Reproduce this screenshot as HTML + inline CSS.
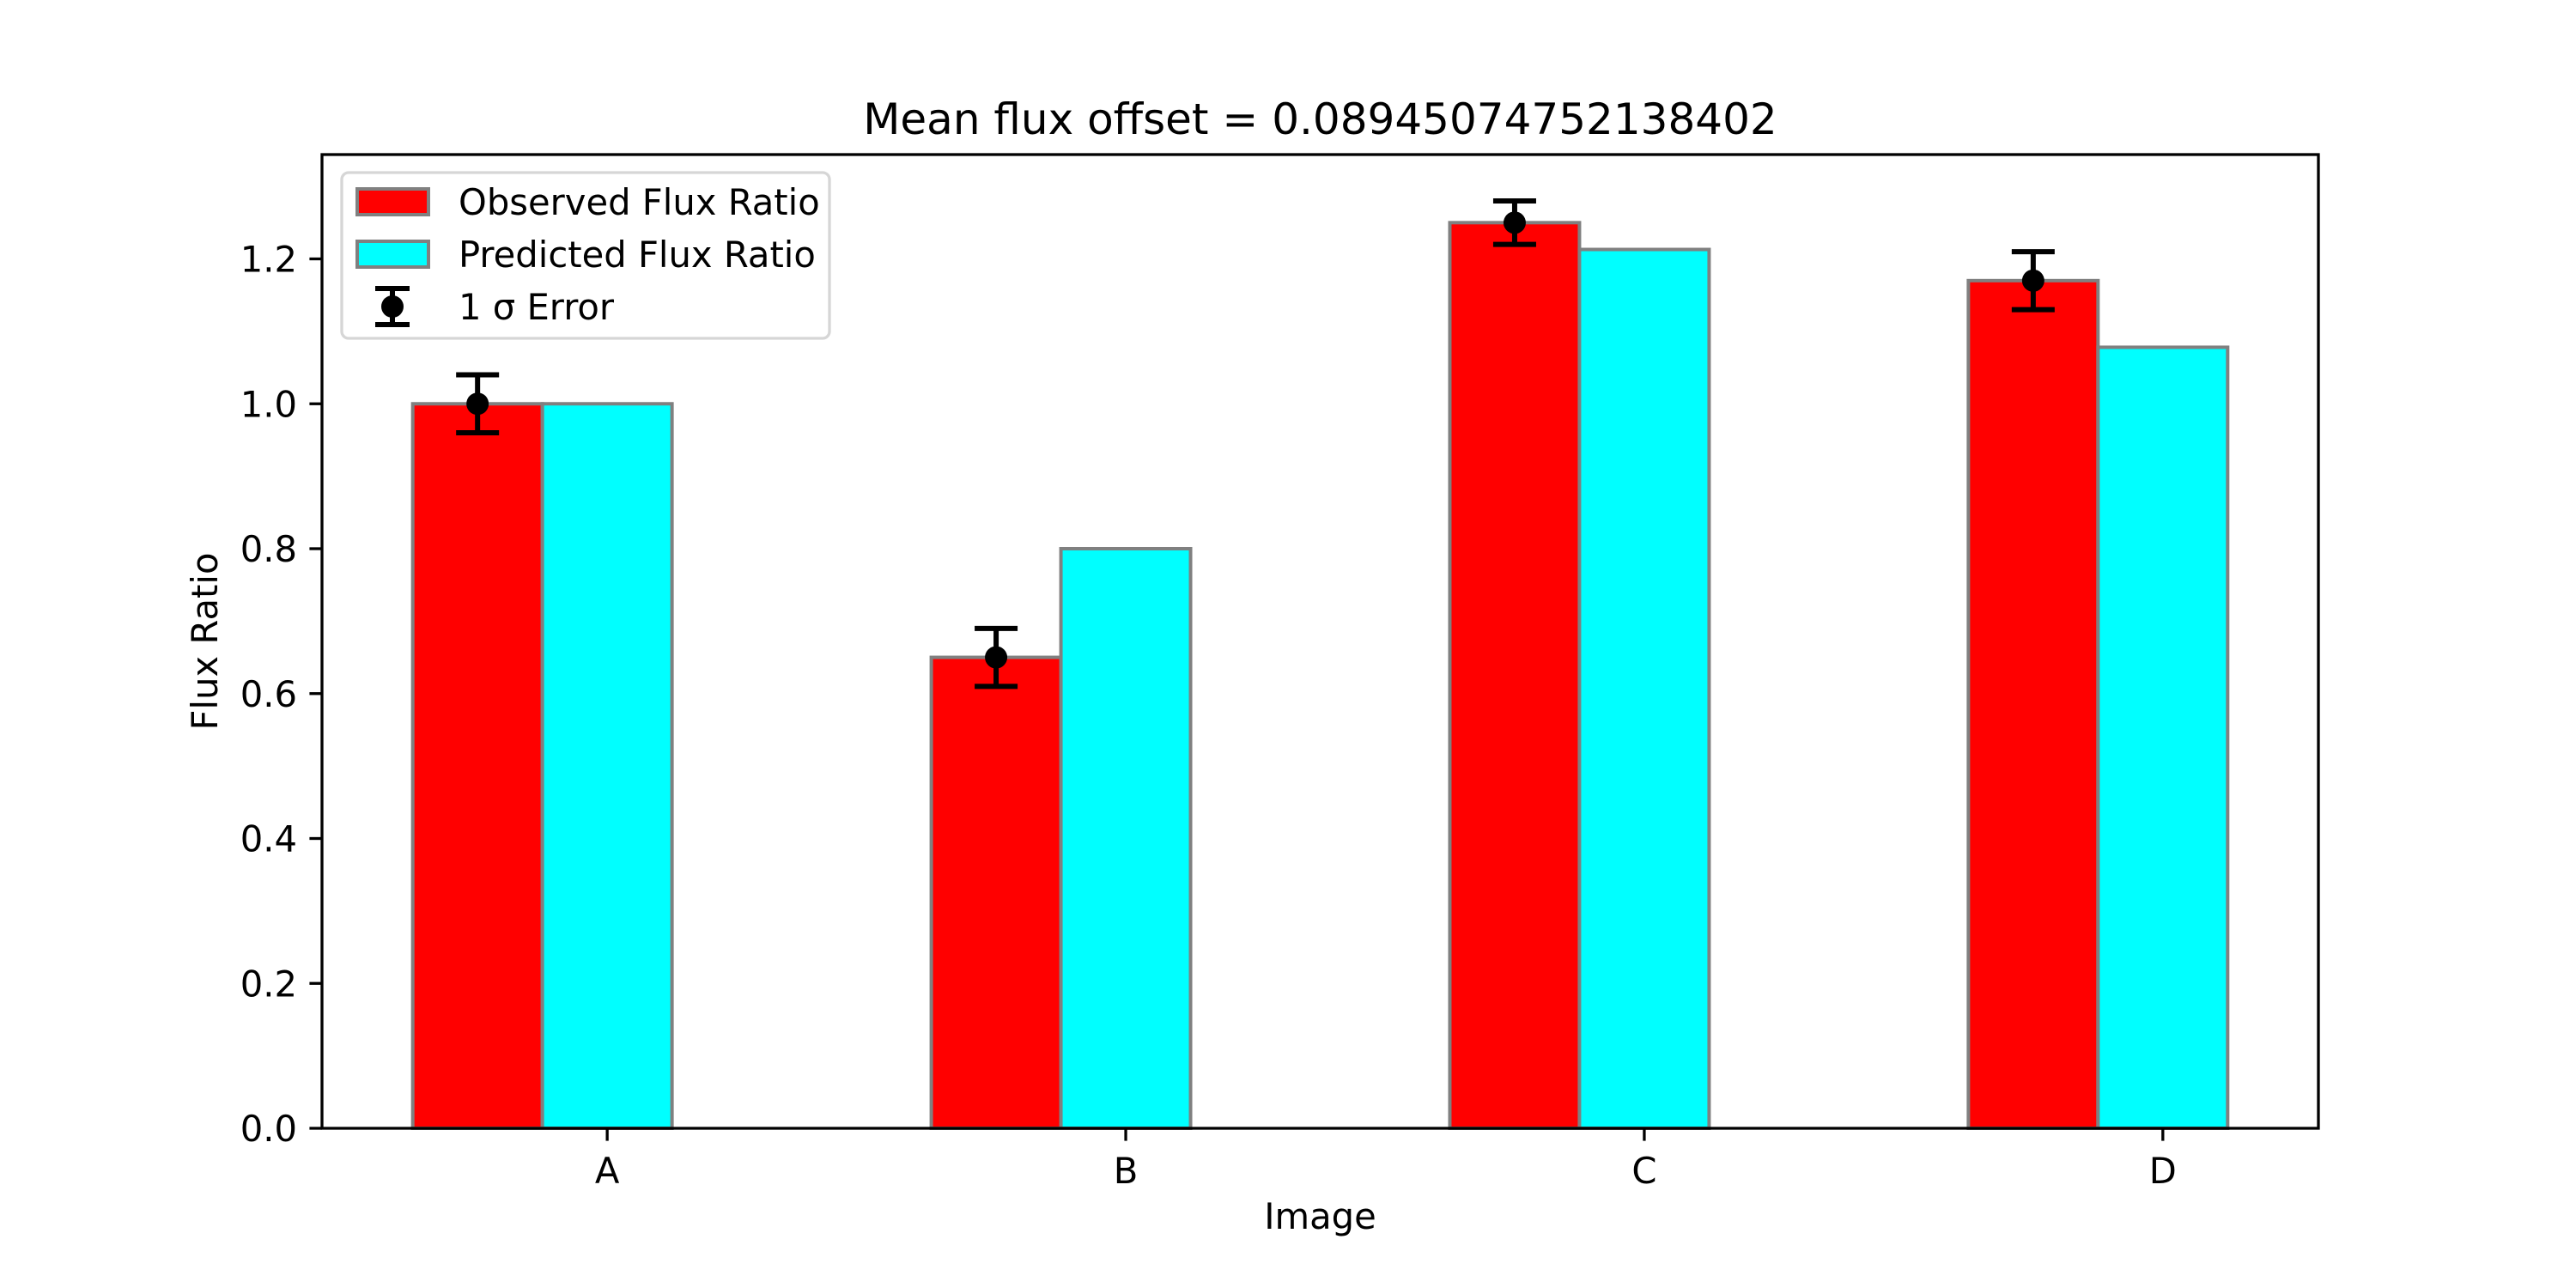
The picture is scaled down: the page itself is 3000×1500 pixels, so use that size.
<!DOCTYPE html>
<html><head><meta charset="utf-8"><style>
html,body{margin:0;padding:0;background:#fff;}
svg{display:block;font-family:"DejaVu Sans","Liberation Sans",sans-serif;}
</style></head><body>
<svg id="chart" width="3000" height="1500" viewBox="0 0 3000 1500" xmlns="http://www.w3.org/2000/svg">
<rect width="3000" height="1500" fill="#fff"/>
<g id="plot"></g>
</svg>
<script>
const categories = ["A","B","C","D"];
const observed = [1.0, 0.65, 1.25, 1.17];
const predicted = [1.0, 0.80, 1.213, 1.078];
const errors = [0.04, 0.04, 0.03, 0.04];
const yTicks = [0.0, 0.2, 0.4, 0.6, 0.8, 1.0, 1.2];
const titleText = "Mean flux offset = 0.08945074752138402";

const NS = "http://www.w3.org/2000/svg";
const L = 375, R = 2700, T = 180, B = 1314;
const barW = 0.25;
const yMaxData = Math.max(...observed.map((v,i)=>v+errors[i]), ...predicted);
const yMax = yMaxData * 1.05;
const xMin = -barW/2 - 0.05*(categories.length - 1 + 2*barW);
const xMax = categories.length - 1 + barW*1.5 + 0.05*(categories.length - 1 + 2*barW);
const xs = v => L + (v - xMin) / (xMax - xMin) * (R - L);
const ys = v => B - v / yMax * (B - T);
const g = document.getElementById("plot");
function el(tag, attrs, parent) {
  const e = document.createElementNS(NS, tag);
  for (const k in attrs) e.setAttribute(k, attrs[k]);
  (parent || g).appendChild(e);
  return e;
}

categories.forEach((c, i) => {
  const r = el("rect", {x: xs(i - barW/2), y: ys(observed[i]), width: xs(barW) - xs(0), height: ys(0) - ys(observed[i]), fill: "#ff0000", stroke: "#808080", "stroke-width": 4});
  
  
  const p = el("rect", {x: xs(i + barW/2), y: ys(predicted[i]), width: xs(barW) - xs(0), height: ys(0) - ys(predicted[i]), fill: "#00ffff", stroke: "#808080", "stroke-width": 4});
  
  
});
categories.forEach((c, i) => {
  const eg = el("g", {});
  
  
  const x = xs(i), y1 = ys(observed[i] + errors[i]), y2 = ys(observed[i] - errors[i]);
  el("line", {x1: x, x2: x, y1: y1, y2: y2, stroke: "#000", "stroke-width": 6}, eg);
  el("line", {x1: x - 25, x2: x + 25, y1: y1, y2: y1, stroke: "#000", "stroke-width": 6}, eg);
  el("line", {x1: x - 25, x2: x + 25, y1: y2, y2: y2, stroke: "#000", "stroke-width": 6}, eg);
  el("circle", {cx: x, cy: ys(observed[i]), r: 13, fill: "#000"}, eg);
});
const frame = el("rect", {x: L, y: T, width: R - L, height: B - T, fill: "none", stroke: "#000", "stroke-width": 3.3});


yTicks.forEach(v => {
  const y = ys(v);
  el("line", {x1: L - 14.6, x2: L, y1: y, y2: y, stroke: "#000", "stroke-width": 3.3});
  const t = el("text", {x: L - 29, y: y + 15, "text-anchor": "end", "font-size": 41.7, fill: "#000"});
  t.textContent = v.toFixed(1);
  
  
});
categories.forEach((c, i) => {
  const x = xs(i + barW);
  el("line", {x1: x, x2: x, y1: B, y2: B + 14.6, stroke: "#000", "stroke-width": 3.3});
  const t = el("text", {x: x, y: B + 64, "text-anchor": "middle", "font-size": 41.7, fill: "#000"});
  t.textContent = c;
  
  
});
const title = el("text", {x: (L + R)/2, y: 156, "text-anchor": "middle", "font-size": 50, fill: "#000"});
title.textContent = titleText;


const xl = el("text", {x: (L + R)/2, y: 1431, "text-anchor": "middle", "font-size": 41.7, fill: "#000"});
xl.textContent = "Image";


const yl = el("text", {x: 0, y: 0, "text-anchor": "middle", "font-size": 41.7, fill: "#000", transform: "translate(253," + ((T + B)/2) + ") rotate(-90)"});
yl.textContent = "Flux Ratio";


const lg = el("g", {});


el("rect", {x: 398, y: 201, width: 568, height: 193, rx: 8, fill: "#fff", "fill-opacity": 0.8, stroke: "#d6d6d6", "stroke-width": 3.3}, lg);
const entries = [["Observed Flux Ratio", "#ff0000"], ["Predicted Flux Ratio", "#00ffff"], ["1 σ Error", null]];
const rowY = [235, 296, 357];
entries.forEach((e, k) => {
  const eg = el("g", {}, lg);
  
  
  const cy = rowY[k];
  if (e[1]) {
    el("rect", {x: 416, y: cy - 15, width: 83, height: 30, fill: e[1], stroke: "#808080", "stroke-width": 4}, eg);
  } else {
    el("line", {x1: 457, x2: 457, y1: cy - 21, y2: cy + 21, stroke: "#000", "stroke-width": 6}, eg);
    el("line", {x1: 437, x2: 477, y1: cy - 21, y2: cy - 21, stroke: "#000", "stroke-width": 6}, eg);
    el("line", {x1: 437, x2: 477, y1: cy + 21, y2: cy + 21, stroke: "#000", "stroke-width": 6}, eg);
    el("circle", {cx: 457, cy: cy, r: 13, fill: "#000"}, eg);
  }
  const t = el("text", {x: 534, y: cy + 15, "font-size": 41.7, fill: "#000"}, eg);
  t.textContent = e[0];
});
</script>
</body></html>
